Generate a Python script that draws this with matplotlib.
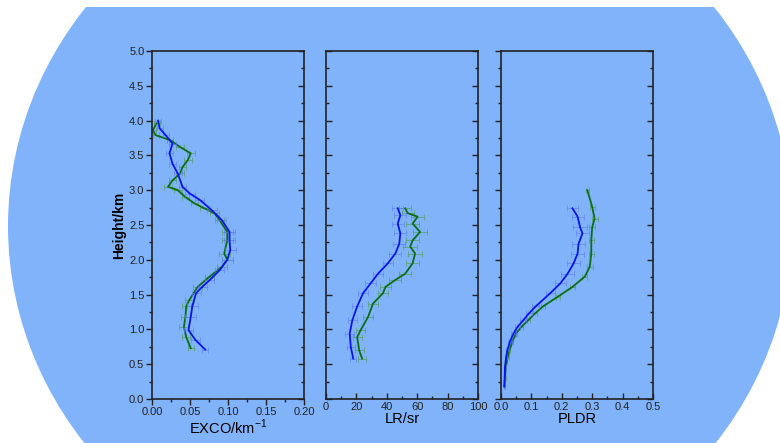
"""
Lidar profiles: EXCO, LR and PLDR against height, on an elliptical blue backdrop.
"""

import matplotlib

matplotlib.use("Agg")
import matplotlib.pyplot as plt
from matplotlib.patches import Ellipse, Rectangle

plt.rcParams["font.family"] = ["Liberation Sans", "DejaVu Sans"]

# ---- data ----
exco_blue_h = [0.71, 0.85, 0.99, 1.18, 1.33, 1.52, 1.61, 1.71, 1.85, 2.00, 2.14, 2.28,
               2.40, 2.57, 2.71, 2.86, 2.95, 3.05, 3.24, 3.38, 3.53, 3.67, 3.79, 3.89, 4.00]
exco_blue = [0.070, 0.057, 0.048, 0.051, 0.053, 0.058, 0.066, 0.076, 0.089, 0.099, 0.103, 0.102,
             0.102, 0.092, 0.079, 0.063, 0.050, 0.040, 0.034, 0.027, 0.023, 0.027, 0.018, 0.010, 0.008]
exco_blue_err = [0.004, 0.006, 0.006, 0.007, 0.007, 0.006, 0.006, 0.006, 0.006, 0.007, 0.007, 0.007,
                 0.007, 0.006, 0.006, 0.006, 0.006, 0.005, 0.005, 0.005, 0.005, 0.005, 0.004, 0.004, 0.004]

exco_green_h = [0.73, 0.89, 1.04, 1.18, 1.33, 1.42, 1.61, 1.76, 1.90, 2.00, 2.09, 2.28, 2.40,
                2.57, 2.67, 2.74, 2.81, 2.90, 3.00, 3.05, 3.14, 3.24, 3.33, 3.43, 3.53, 3.62,
                3.72, 3.79, 3.86, 3.96]
exco_green = [0.051, 0.045, 0.042, 0.044, 0.045, 0.049, 0.060, 0.076, 0.092, 0.099, 0.095, 0.099, 0.099,
              0.089, 0.082, 0.069, 0.056, 0.044, 0.034, 0.021, 0.027, 0.037, 0.040, 0.047, 0.051, 0.037,
              0.024, 0.005, 0.001, 0.006]
exco_green_err = [0.004, 0.005, 0.006, 0.006, 0.006, 0.006, 0.006, 0.006, 0.007, 0.007, 0.007, 0.007, 0.007,
                  0.006, 0.006, 0.006, 0.005, 0.005, 0.005, 0.005, 0.005, 0.005, 0.005, 0.005, 0.005, 0.005,
                  0.004, 0.004, 0.004, 0.004]

lr_blue_h = [0.58, 0.75, 0.94, 1.13, 1.33, 1.52, 1.66, 1.80, 1.95, 2.09, 2.23, 2.38, 2.52, 2.64, 2.74]
lr_blue = [17.9, 16.3, 15.6, 17.3, 20.5, 24.4, 29.3, 34.2, 40.7, 45.6, 48.2, 48.9, 47.2, 48.9, 47.2]
lr_blue_err = [2.0, 2.5, 3.0, 3.0, 3.5, 3.5, 3.5, 3.5, 3.5, 4.0, 4.0, 4.0, 4.0, 4.0, 3.5]

lr_green_h = [0.58, 0.70, 0.89, 0.99, 1.18, 1.37, 1.52, 1.61, 1.71, 1.80, 1.95, 2.09, 2.19,
              2.28, 2.40, 2.52, 2.62, 2.67, 2.74]
lr_green = [23.8, 21.8, 20.5, 22.8, 27.7, 30.9, 37.5, 39.1, 45.6, 52.1, 57.0, 58.6, 55.4,
            57.0, 61.9, 57.0, 60.3, 53.7, 52.1]
lr_green_err = [2.5, 3.0, 3.0, 3.0, 3.5, 3.5, 3.5, 3.5, 4.0, 4.0, 4.5, 4.5, 4.5,
                4.5, 4.5, 4.5, 4.5, 4.0, 4.0]

pldr_blue_h = [0.18, 0.30, 0.46, 0.60, 0.70, 0.82, 0.94, 1.04, 1.13, 1.23, 1.33, 1.52, 1.66,
               1.80, 1.95, 2.09, 2.23, 2.38, 2.47, 2.62, 2.74]
pldr_blue = [0.011, 0.012, 0.013, 0.017, 0.021, 0.029, 0.041, 0.055, 0.073, 0.092, 0.114, 0.162, 0.195,
             0.219, 0.239, 0.252, 0.255, 0.268, 0.260, 0.252, 0.235]
pldr_blue_err = [0.002, 0.002, 0.003, 0.004, 0.005, 0.006, 0.008, 0.009, 0.010, 0.011, 0.012, 0.015, 0.018,
                 0.020, 0.022, 0.022, 0.022, 0.022, 0.022, 0.020, 0.018]

pldr_green_h = [0.18, 0.30, 0.46, 0.60, 0.70, 0.82, 0.94, 1.04, 1.13, 1.23, 1.33, 1.47, 1.61,
                1.76, 1.90, 2.09, 2.28, 2.47, 2.59, 2.76, 3.00]
pldr_green = [0.011, 0.013, 0.016, 0.022, 0.028, 0.037, 0.049, 0.068, 0.089, 0.112, 0.138, 0.187, 0.235,
              0.276, 0.292, 0.297, 0.297, 0.300, 0.308, 0.300, 0.284]
pldr_green_err = [0.002, 0.002, 0.002, 0.003, 0.003, 0.004, 0.004, 0.005, 0.005, 0.006, 0.006, 0.007, 0.008,
                  0.008, 0.009, 0.009, 0.009, 0.009, 0.010, 0.008, 0.006]

panels = [
    dict(xlim=(0, 0.2), step=0.05, minor=0.025, fmt="{:.2f}", label="EXCO/km$^{\\mathregular{-1}}$",
         series=[(exco_green, exco_green_h, exco_green_err), (exco_blue, exco_blue_h, exco_blue_err)]),
    dict(xlim=(0, 100), step=20, minor=10, fmt="{:.0f}", label="LR/sr",
         series=[(lr_green, lr_green_h, lr_green_err), (lr_blue, lr_blue_h, lr_blue_err)]),
    dict(xlim=(0, 0.5), step=0.1, minor=0.05, fmt="{:.1f}", label="PLDR",
         series=[(pldr_green, pldr_green_h, pldr_green_err), (pldr_blue, pldr_blue_h, pldr_blue_err)]),
]

BG = "#80b3fa"
LINE_COLORS = ["#0b6e12", "#0a14f0"]
ERR_COLORS = ["#4f9a4f", "#5f7cf5"]

W, H = 780, 443
fig = plt.figure(figsize=(W / 100, H / 100), dpi=100, facecolor="white")

# backdrop: big ellipse cut flat at the top
bg = fig.add_axes([0, 0, 1, 1], zorder=-10)
bg.set_xlim(0, W)
bg.set_ylim(H, 0)
bg.axis("off")
bg.add_patch(Ellipse((400, 226), 784, 732, color=BG, lw=0))
bg.add_patch(Rectangle((0, 0), W, 7, color="white", lw=0))

lefts = [152, 326, 501]
ax_w, top, bottom = 152, 51, 399

for i, (p, left) in enumerate(zip(panels, lefts)):
    ax = fig.add_axes([left / W, (H - bottom) / H, ax_w / W, (bottom - top) / H])
    ax.set_facecolor(BG)
    for (x, h, e), lc, ec in zip(p["series"], LINE_COLORS, ERR_COLORS):
        ax.errorbar(x, h, xerr=e, fmt="none", ecolor=ec, elinewidth=0.6,
                    capsize=2, capthick=0.6, alpha=0.7)
        ax.plot(x, h, color=lc, lw=1.3)

    lo, hi = p["xlim"]
    ax.set_xlim(lo, hi)
    ax.set_ylim(0, 5)
    n = int(round((hi - lo) / p["step"]))
    xt = [lo + k * p["step"] for k in range(n + 1)]
    ax.set_xticks(xt)
    ax.set_xticklabels([p["fmt"].format(v) for v in xt], fontsize=8)
    nm = int(round((hi - lo) / p["minor"]))
    ax.set_xticks([lo + k * p["minor"] for k in range(nm + 1)], minor=True)

    yt = [k * 0.5 for k in range(11)]
    ax.set_yticks(yt)
    ax.set_yticks([k * 0.25 for k in range(21)], minor=True)
    if i == 0:
        ax.set_yticklabels([f"{v:.1f}" for v in yt], fontsize=8)
        ax.set_ylabel("Height/km", fontsize=10, fontweight="bold", labelpad=2)
    else:
        ax.set_yticklabels([])

    ax.set_xlabel(p["label"], fontsize=10.5, labelpad=0)

    ydir = "out" if i != 1 else "in"
    xdir = "out" if i == 0 else "in"
    ax.tick_params(axis="y", which="both", direction=ydir, left=True, right=False,
                   width=1.0, color="#222222", pad=1.5)
    ax.tick_params(axis="y", which="major", length=4)
    ax.tick_params(axis="y", which="minor", length=2.5)
    ax.tick_params(axis="x", which="both", direction=xdir, bottom=True, top=False,
                   width=1.0, color="#222222", pad=2)
    ax.tick_params(axis="x", which="major", length=4)
    ax.tick_params(axis="x", which="minor", length=2.5)
    ax.tick_params(labelcolor="#222222")

    # inward ticks on the right spine
    sec = ax.secondary_yaxis("right")
    sec.set_yticks(yt)
    sec.set_yticks([k * 0.25 for k in range(21)], minor=True)
    sec.set_yticklabels([])
    sec.tick_params(which="both", direction="in", width=1.0, color="#222222")
    sec.tick_params(which="major", length=4)
    sec.tick_params(which="minor", length=2.5)
    sec.spines["right"].set_visible(False)

    for s in ax.spines.values():
        s.set_linewidth(1.2)
        s.set_color("#222222")

fig.savefig("out.png", dpi=100, facecolor="white")
